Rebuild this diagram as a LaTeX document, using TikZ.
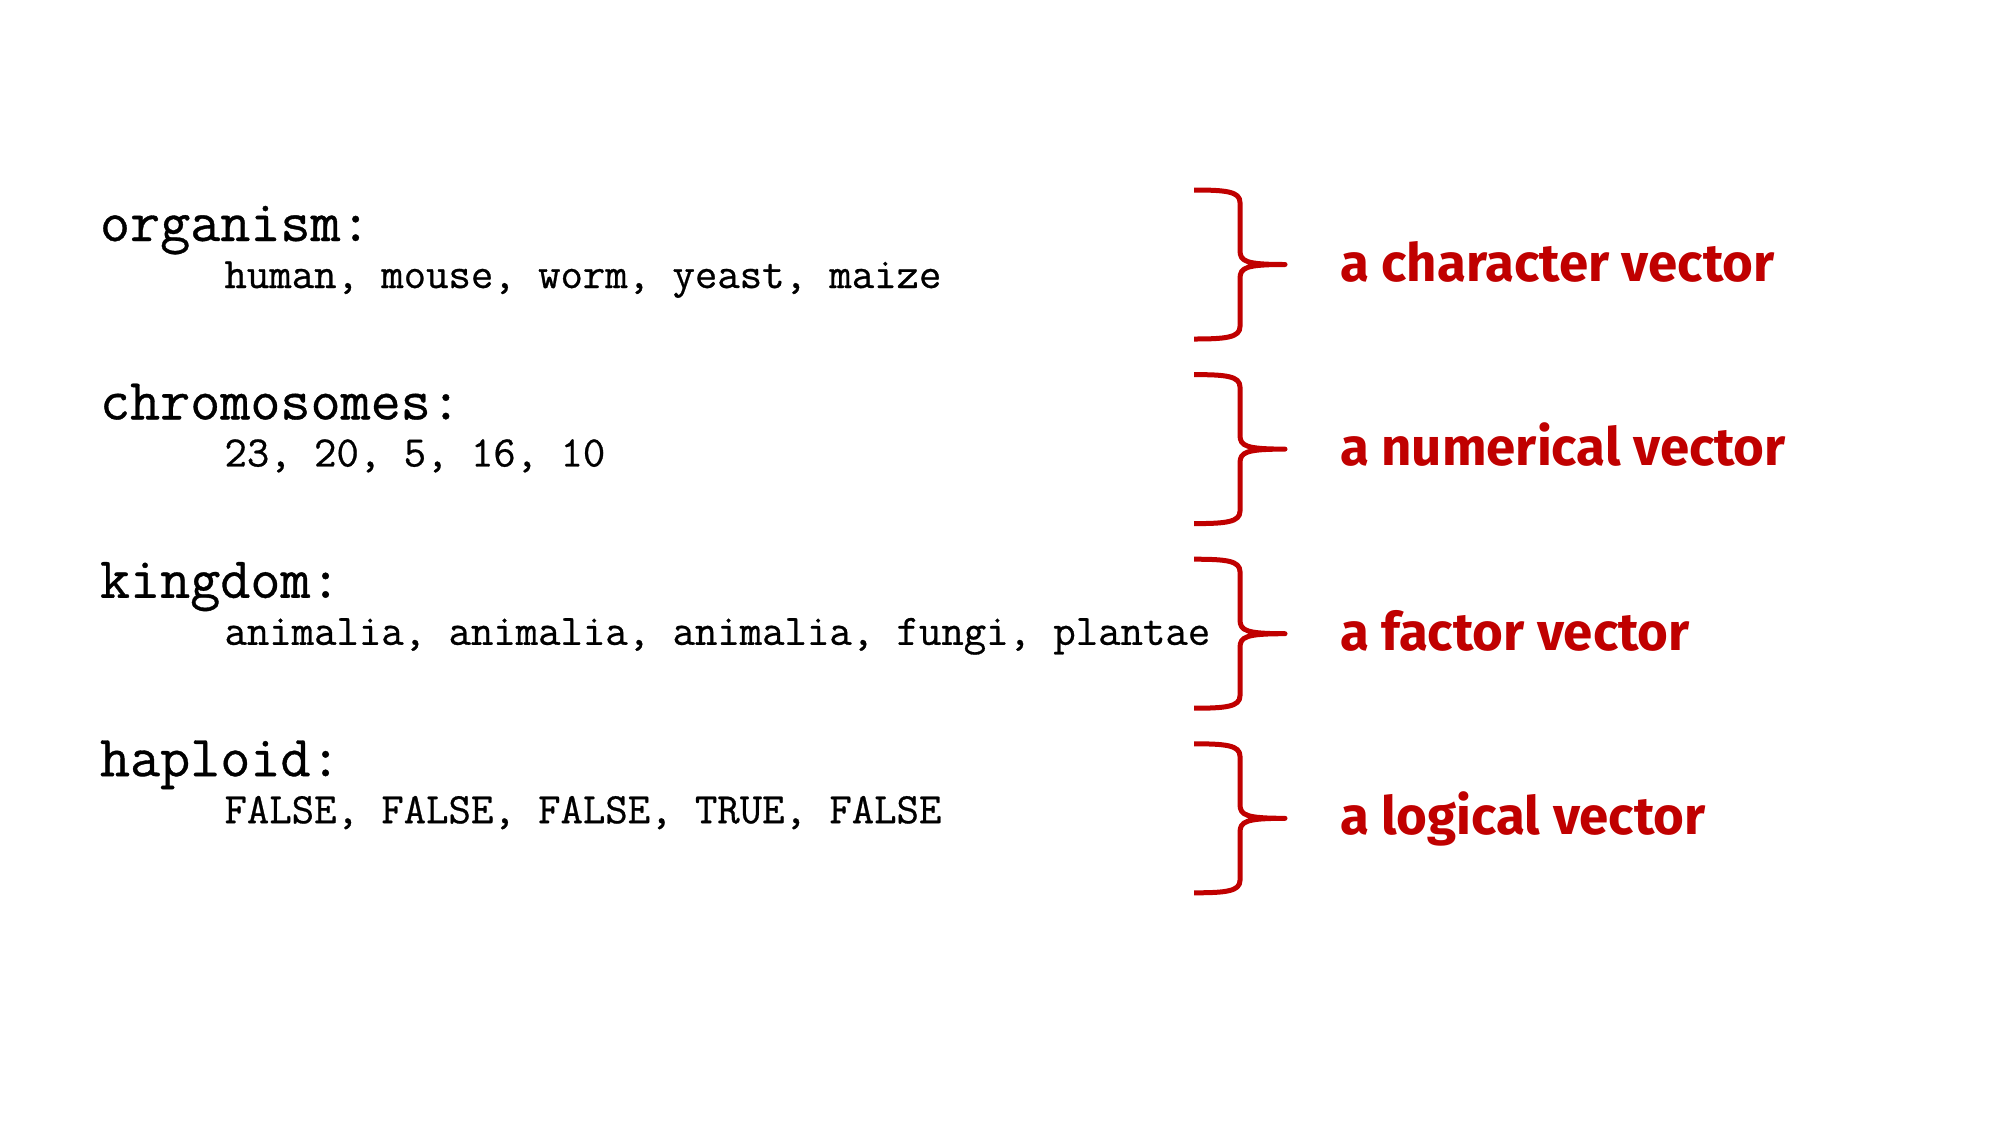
\documentclass[tikz,border=0pt]{standalone}
\usepackage{fontspec}
\setmonofont[FakeBold=0.6]{Latin Modern Mono}
\newfontfamily\labelfont{Fira Sans}
\definecolor{vecred}{RGB}{192,0,0}
\tikzset{
  head/.style={anchor=base west, inner sep=0pt, outer sep=0pt, font=\ttfamily\fontsize{29.2pt}{32pt}\selectfont},
  vals/.style={anchor=base west, inner sep=0pt, outer sep=0pt, font=\ttfamily\fontsize{21.75pt}{24pt}\selectfont},
  lab/.style={anchor=base west, inner sep=0pt, outer sep=0pt, text=vecred, font=\labelfont\bfseries\fontsize{26.4pt}{30pt}\selectfont},
  bracestroke/.style={draw=vecred, line width=2.5pt, line cap=butt, line join=round},
  vecbrace/.pic={
    \draw[bracestroke] (-46,-74.5) .. controls (-14,-74.5) and (0,-73) .. (0,-62)
      -- (0,-14) .. controls (0,-3) and (6,0) .. (45,0)
      .. controls (6,0) and (0,3) .. (0,14)
      -- (0,62) .. controls (0,73) and (-14,74.5) .. (-46,74.5);
  }
}
\begin{document}
\begin{tikzpicture}[x=0.5pt, y=-0.5pt]
  \useasboundingbox[fill=white] (0,0) rectangle (2000,1125);
  % left column
  \node[head] (h1) at (100,241) {organism:};
  \node[vals] (v1) at (224.5,288) {human, mouse, worm, yeast, maize};
  \node[head] (h2) at (100,419.4) {chromosomes:};
  \node[vals] (v2) at (224.5,466.4) {23, 20, 5, 16, 10};
  \node[head] (h3) at (100,597.8) {kingdom:};
  \node[vals] (v3) at (224.5,644.8) {animalia, animalia, animalia, fungi, plantae};
  \node[head] (h4) at (100,776.2) {haploid:};
  \node[vals] (v4) at (224.5,823.2) {FALSE, FALSE, FALSE, TRUE, FALSE};
  % braces
  \pic at (1240,264.5) {vecbrace};
  \pic at (1240,449.1) {vecbrace};
  \pic at (1240,633.7) {vecbrace};
  \pic at (1240,818.3) {vecbrace};
  % labels
  \node[lab] (l1) at (1340,281) {a character vector};
  \node[lab] (l2) at (1340,465.6) {a numerical vector};
  \node[lab] (l3) at (1340,650.2) {a factor vector};
  \node[lab] (l4) at (1340,834.8) {a logical vector};
\end{tikzpicture}
\end{document}
